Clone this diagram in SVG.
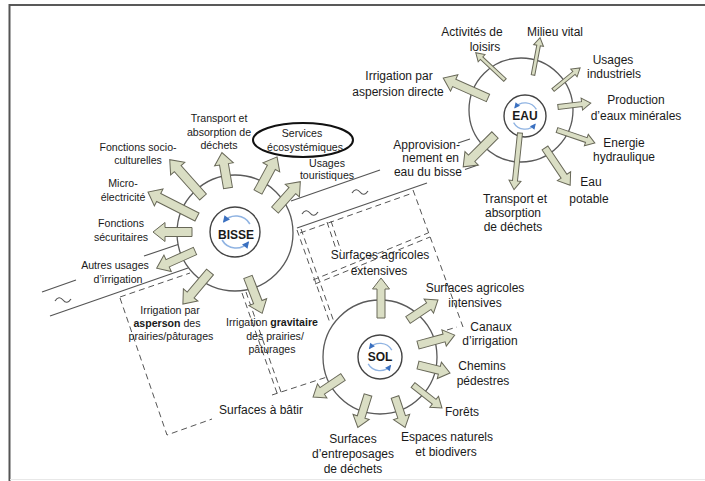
<svg xmlns="http://www.w3.org/2000/svg" width="705" height="481" viewBox="0 0 705 481">
<defs>
<style>
text{font-family:"Liberation Sans",Arial,sans-serif;font-size:10.6px;fill:#1a1a1a;text-anchor:middle}
.L{font-size:12px}
.b{font-weight:bold}
.ch{stroke:#555;stroke-width:1.2;fill:none}
.d{stroke:#555;stroke-width:1;fill:none;stroke-dasharray:6 4}
.ring{fill:#fff;stroke:#5a5a5a;stroke-width:1.3}
.core{fill:#fff;stroke:#444;stroke-width:1.4}
.ar{fill:#dadec4;stroke:#686858;stroke-width:1}
.cy{fill:none;stroke:#8fb3e2;stroke-width:1.6}
</style>
<marker id="ah" viewBox="-7 -4 8 8" refX="0" refY="0" markerWidth="8" markerHeight="8" orient="auto" markerUnits="userSpaceOnUse"><path d="M1,0 L-6,-3.5 L-6,3.5 Z" fill="#3a70c0"/></marker>
<g id="cyc"><path class="cy" d="M13.9,-8 A16,16 0 0 0 -12.5,-10" marker-end="url(#ah)"/><path class="cy" d="M-13.9,8 A16,16 0 0 0 12.5,10" marker-end="url(#ah)"/></g>
</defs>
<rect width="705" height="481" fill="#fff"/>
<g id="frame">
<line x1="10" y1="5" x2="705" y2="5" stroke="#222" stroke-width="1.6"/>
<line x1="9.5" y1="4" x2="9.5" y2="481" stroke="#555" stroke-width="2"/>
<line x1="10" y1="479.5" x2="705" y2="479.5" stroke="#e8e8e8" stroke-width="1"/>
</g>
<g id="bisse-channel">
<path class="ch" d="M42,292 L76,280 M144,256 L181,243.5 M291,201 L380,170 M458,143 L470,139"/>
<path class="ch" d="M50,316 L188,268 M297,228 L427,183 M465,169.5 L478,165"/>
<path class="ch" d="M55,301 q4,-6 8,-1 t8,-1 M302,214 q4,-6 8,-1 t8,-1 M352,193 q4,-6 8,-1 t8,-1"/>
</g>
<g id="parcels">
<path class="d" d="M120,297 L190,273"/>
<path class="d" d="M120,298 L167,435 L212,419"/>
<path class="d" d="M272,395 L327,377"/>
<path class="d" d="M242,293 L277,393 M246,292 L281,392"/>
<path class="d" d="M297,230 L330,323 M301,229 L334,322"/>
<path class="d" d="M300,233 L410,194"/>
<path class="d" d="M413,190 L463,327"/>
<path class="d" d="M327,222 L337,252 M331,221 L341,251"/>
<path class="d" d="M313,280 L428,233 M315,284 L430,237"/>
<path class="d" d="M447,330 L457,327"/>
</g>
<g id="bisse">
<circle class="ring" cx="235" cy="233" r="58"/>
<circle class="core" cx="235" cy="232" r="25"/>
<use href="#cyc" x="236" y="232"/>
<text class="b L" x="236" y="239">BISSE</text>
</g>
<g id="eau">
<circle class="ring" cx="521" cy="110" r="52"/>
<circle class="core" cx="525" cy="116" r="21"/>
<use href="#cyc" transform="translate(525,116) scale(0.82)"/>
<text class="b L" x="525" y="120">EAU</text>
</g>
<g id="sol">
<circle class="ring" cx="380" cy="357" r="57"/>
<circle class="core" cx="380" cy="357" r="22"/>
<use href="#cyc" transform="translate(380,357) scale(0.85)"/>
<text class="b L" x="380" y="361">SOL</text>
</g>
<g id="connectors">
<path class="ar" transform="translate(203,197) rotate(-131.7)" d="M0,-4.5H38V-9.5L50,0L38,9.5V4.5H0Z"/>
<path class="ar" transform="translate(228,188) rotate(-99.7)" d="M0,-4.5H24V-9.5L36,0L24,9.5V4.5H0Z"/>
<path class="ar" transform="translate(258,192) rotate(-61.5)" d="M0,-4.5H28V-9.5L40,0L28,9.5V4.5H0Z"/>
<path class="ar" transform="translate(275,210) rotate(-48.2)" d="M0,-4.5H26V-9.5L38,0L26,9.5V4.5H0Z"/>
<path class="ar" transform="translate(197,217) rotate(-153)" d="M0,-4.5H43V-9.5L55,0L43,9.5V4.5H0Z"/>
<path class="ar" transform="translate(192,232) rotate(180)" d="M0,-4.5H27V-9.5L39,0L27,9.5V4.5H0Z"/>
<path class="ar" transform="translate(195,251) rotate(155.9)" d="M0,-4H30V-9L42,0L30,9V4H0Z"/>
<path class="ar" transform="translate(210,272) rotate(130.2)" d="M0,-4.5H30V-9.5L42,0L30,9.5V4.5H0Z"/>
<path class="ar" transform="translate(248,277) rotate(68.7)" d="M0,-4.5H27V-9.5L39,0L27,9.5V4.5H0Z"/>
<path class="ar" transform="translate(505,80) rotate(-137)" d="M0,-1.8H32V-5L40,0L32,5V1.8H0Z"/>
<path class="ar" transform="translate(533,75) rotate(-79.3)" d="M0,-1.8H30V-5L38,0L30,5V1.8H0Z"/>
<path class="ar" transform="translate(553,90) rotate(-39.2)" d="M0,-1.8H27V-5L35,0L27,5V1.8H0Z"/>
<path class="ar" transform="translate(558,107) rotate(-6.9)" d="M0,-2.5H24V-6L33,0L24,6V2.5H0Z"/>
<path class="ar" transform="translate(557,130) rotate(18.9)" d="M0,-2.5H31V-6L40,0L31,6V2.5H0Z"/>
<path class="ar" transform="translate(545,148) rotate(56)" d="M0,-3.5H34V-8L45,0L34,8V3.5H0Z"/>
<path class="ar" transform="translate(520,133) rotate(96)" d="M0,-2.5H48V-6L57,0L48,6V2.5H0Z"/>
<path class="ar" transform="translate(495,135) rotate(135)" d="M0,-4.5H33V-9.5L45,0L33,9.5V4.5H0Z"/>
<path class="ar" transform="translate(488,98) rotate(-156)" d="M0,-4H37V-9L49,0L37,9V4H0Z"/>
<path class="ar" transform="translate(381,318) rotate(-90)" d="M0,-4H29V-8.5L40,0L29,8.5V4H0Z"/>
<path class="ar" transform="translate(408,320) rotate(-33.7)" d="M0,-4H25V-8.5L36,0L25,8.5V4H0Z"/>
<path class="ar" transform="translate(418,345) rotate(-15.1)" d="M0,-4H27V-8.5L38,0L27,8.5V4H0Z"/>
<path class="ar" transform="translate(418,365) rotate(14)" d="M0,-4H22V-8.5L33,0L22,8.5V4H0Z"/>
<path class="ar" transform="translate(413,385) rotate(38.4)" d="M0,-3H27V-7L37,0L27,7V3H0Z"/>
<path class="ar" transform="translate(395,397) rotate(71.6)" d="M0,-4H21V-8.5L32,0L21,8.5V4H0Z"/>
<path class="ar" transform="translate(368,395) rotate(107.4)" d="M0,-4H23V-8.5L34,0L23,8.5V4H0Z"/>
<path class="ar" transform="translate(343,377) rotate(146.3)" d="M0,-4H25V-8.5L36,0L25,8.5V4H0Z"/>
</g>
<g id="services">
<ellipse cx="303" cy="140" rx="50" ry="17" fill="none" stroke="#111" stroke-width="2"/>
<text x="302" y="137">Services</text><text x="305" y="151">écosystémiques</text>
</g>
<g id="lbl-bisse">
<text x="219" y="122">Transport et</text><text x="219" y="136">absorption de</text><text x="219" y="149">déchets</text>
<text x="327" y="167">Usages</text><text x="327" y="179">touristiques</text>
<text x="138" y="151">Fonctions socio-</text><text x="138" y="164">culturelles</text>
<text x="123" y="187">Micro-</text><text x="123" y="201">électricité</text>
<text x="121" y="227">Fonctions</text><text x="121" y="241">sécuritaires</text>
<text x="115" y="269">Autres usages</text><text x="118" y="283">d’irrigation</text>
<text x="170" y="314">Irrigation par</text><text x="167" y="327"><tspan class="b">asperson</tspan> des</text><text x="171" y="340">prairies/pâturages</text>
<text x="272" y="326">Irrigation <tspan class="b">gravitaire</tspan></text><text x="275" y="340">des prairies/</text><text x="272" y="353">pâturages</text>
<rect x="215" y="401" width="92" height="16" fill="#fff"/>
<text class="L" x="261" y="414">Surfaces à bâtir</text>
</g>
<g id="lbl-eau" class="L">
<text class="L" x="472" y="36">Activités de</text><text class="L" x="485" y="51">loisirs</text>
<text class="L" x="555" y="36">Milieu vital</text>
<text class="L" x="613" y="64">Usages</text><text class="L" x="614" y="78">industriels</text>
<text class="L" x="636" y="104">Production</text><text class="L" x="636" y="120">d’eaux minérales</text>
<text class="L" x="624" y="147">Energie</text><text class="L" x="624" y="161">hydraulique</text>
<text class="L" x="591" y="186">Eau</text><text class="L" x="589" y="203">potable</text>
<text class="L" x="515" y="203">Transport et</text><text class="L" x="513" y="217">absorption</text><text class="L" x="513" y="231">de déchets</text>
<text class="L" x="460" y="149" style="text-anchor:end">Approvision-</text><text class="L" x="459" y="162" style="text-anchor:end">nement en</text><text class="L" x="462" y="176" style="text-anchor:end">eau du bisse</text>
<text class="L" x="399" y="80">Irrigation par</text><text class="L" x="398" y="96">aspersion directe</text>
</g>
<g id="lbl-sol">
<text class="L" x="380" y="259">Surfaces agricoles</text><text class="L" x="379" y="275">extensives</text>
<text class="L" x="475" y="292">Surfaces agricoles</text><text class="L" x="475" y="307">intensives</text>
<text class="L" x="491" y="331">Canaux</text><text class="L" x="490" y="345">d’irrigation</text>
<text class="L" x="482" y="370">Chemins</text><text class="L" x="483" y="385">pédestres</text>
<text class="L" x="462" y="416">Forêts</text>
<text class="L" x="447" y="441">Espaces naturels</text><text class="L" x="446" y="456">et biodivers</text>
<text class="L" x="353" y="443">Surfaces</text><text class="L" x="353" y="458">d’entreposages</text><text class="L" x="353" y="473">de déchets</text>
</g>
</svg>
